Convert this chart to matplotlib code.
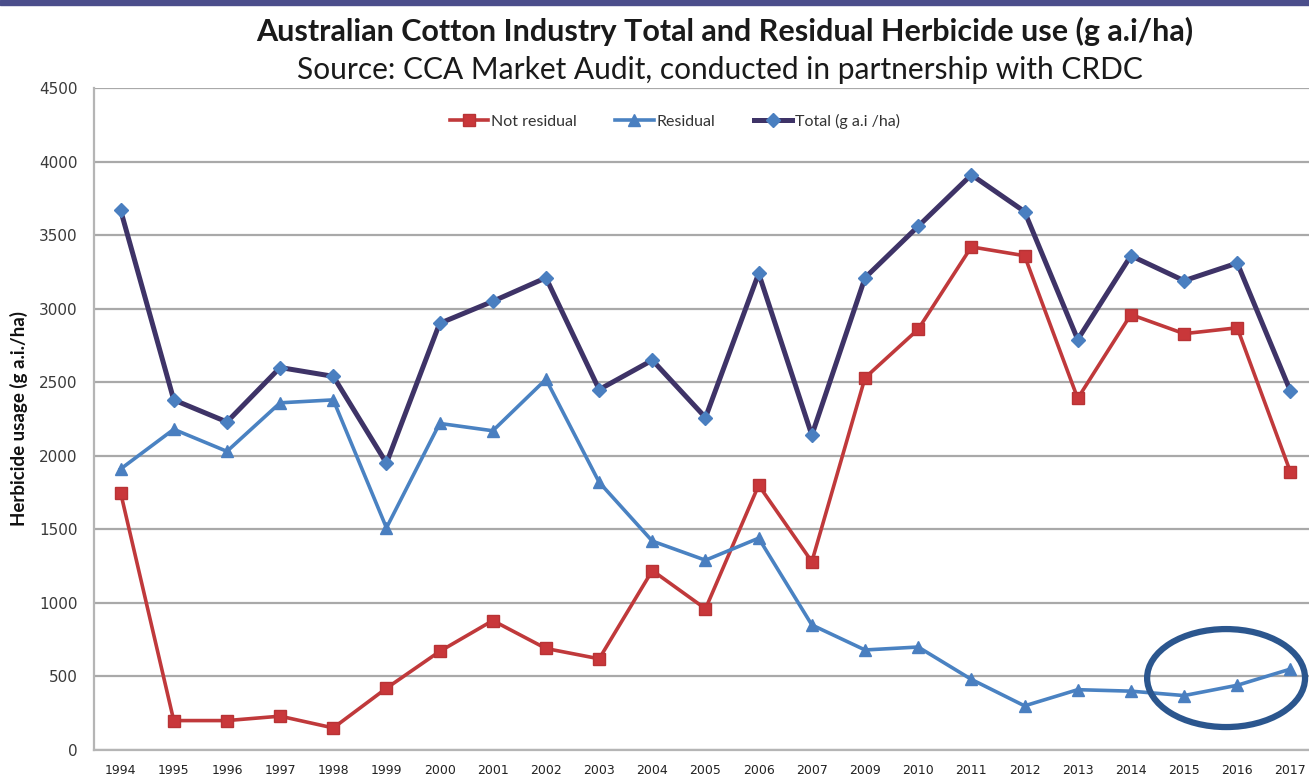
import numpy as np
import matplotlib
matplotlib.use("Agg")
import matplotlib.pyplot as plt
from matplotlib.patches import Ellipse, Rectangle

# Herbicide use by season (g a.i./ha); note there is no 2008 entry
years = ["1994", "1995", "1996", "1997", "1998", "1999", "2000", "2001", "2002",
         "2003", "2004", "2005", "2006", "2007", "2009", "2010", "2011", "2012",
         "2013", "2014", "2015", "2016", "2017"]
not_residual = [1750, 200, 200, 230, 150, 420, 670, 880, 690, 620, 1220, 960,
                1800, 1280, 2530, 2860, 3420, 3360, 2390, 2960, 2830, 2870, 1890]
residual = [1910, 2180, 2030, 2360, 2380, 1510, 2220, 2170, 2520, 1820, 1420, 1290,
            1440, 850, 680, 700, 480, 300, 410, 400, 370, 440, 550]
total = [3670, 2380, 2230, 2600, 2540, 1950, 2900, 3050, 3210, 2450, 2650, 2260,
         3240, 2140, 3210, 3560, 3910, 3660, 2790, 3360, 3190, 3310, 2440]
y_ticks = [0, 500, 1000, 1500, 2000, 2500, 3000, 3500, 4000, 4500]

head_font = ["Lato", "DejaVu Sans"]

W, H = 1309, 778
fig = plt.figure(figsize=(W / 100, H / 100), dpi=100)
fig.patch.set_facecolor("white")

# thin banner strip along the top edge
fig.patches.append(Rectangle((0, 1 - 5 / H), 1, 5 / H, transform=fig.transFigure,
                             color="#4b4e8b", zorder=0))

ax = fig.add_axes([94 / W, 28 / H, 1223 / W, 662 / H])
x = np.arange(len(years))

ax.plot(x, not_residual, color="#c0393b", lw=2.6, marker="s", ms=8.5,
        mfc="#c9373a", mec="#b83335", label="Not residual", zorder=3)
ax.plot(x, residual, color="#4a82c2", lw=2.6, marker="^", ms=8.5,
        mfc="#4a7fc0", mec="#4a7fc0", label="Residual", zorder=4)
ax.plot(x, total, color="#3e3367", lw=3.6, marker="D", ms=7.5,
        mfc="#4a7fc0", mec="#4a7fc0", label="Total (g a.i /ha)", zorder=5)

ax.set_xlim(-0.5, len(years) - 0.5)
ax.set_ylim(0, 4500)
ax.set_yticks(y_ticks)
ax.set_yticklabels([str(v) for v in y_ticks], family="DejaVu Sans",
                   fontsize=11, color="#3a3a3a")
ax.set_xticks(x)
ax.set_xticklabels(years, family="DejaVu Sans", fontsize=9, color="#222222")
ax.tick_params(axis="both", length=0)
ax.tick_params(axis="y", pad=12)
ax.tick_params(axis="x", pad=10)

ax.yaxis.grid(True, color="#a9a9a9", lw=1.6)
ax.set_axisbelow(True)
for side in ("top", "right"):
    ax.spines[side].set_visible(False)
for side in ("left", "bottom"):
    ax.spines[side].set_color("#b5b5b5")
    ax.spines[side].set_linewidth(1.6)

ax.set_ylabel("Herbicide usage (g a.i./ha)", fontsize=13.5, fontweight="bold",
              family=head_font, color="#111111")
ax.yaxis.set_label_coords(-0.054, 0.5)

# highlight of the recent residual trend
ax.add_patch(Ellipse((20.79, 489), width=2.97, height=666, fill=False,
                     lw=4.5, ec="#2b568e", zorder=6))

leg = fig.legend(loc="center", bbox_to_anchor=(675 / W, 1 - 121 / H), ncol=3,
                 frameon=False, handlelength=2.4, columnspacing=2.4,
                 handletextpad=0.2, prop={"family": head_font, "size": 11.5})
for t in leg.get_texts():
    t.set_color("#333333")

fig.text(725 / W, 1 - 31 / H,
         "Australian Cotton Industry Total and Residual Herbicide use (g a.i/ha)",
         ha="center", va="center", fontsize=22, fontweight="bold",
         family=head_font, color="#1a1a1a")
fig.text(720 / W, 1 - 70 / H,
         "Source: CCA Market Audit, conducted in partnership with CRDC",
         ha="center", va="center", fontsize=21.5,
         family=head_font, color="#1a1a1a")

fig.savefig("out.png", dpi=100)
